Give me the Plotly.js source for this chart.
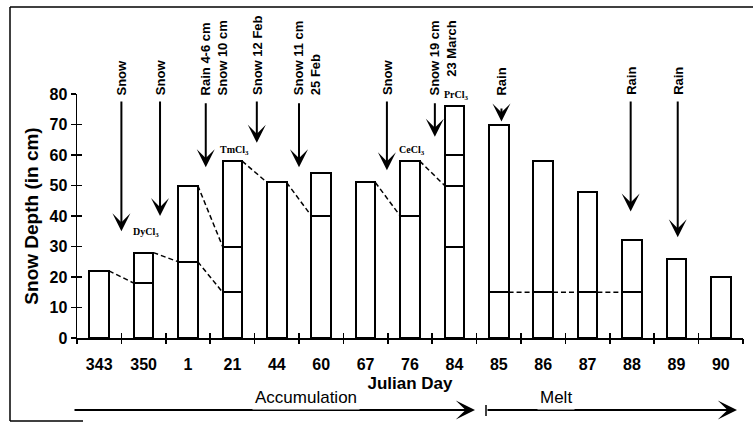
<!DOCTYPE html>
<html>
<head>
<meta charset="utf-8">
<script src="https://cdn.plot.ly/plotly-3.0.1.min.js"></script>
<style>html,body{margin:0;padding:0;background:#fff;}#chart{width:753px;height:423px;}</style>
</head>
<body>
<div id="chart"></div>
<script>
// ---- DATA ----
const categories = ['343','350','1','21','44','60','67','76','84','85','86','87','88','89','90'];
const depth      = [22, 28, 50, 58, 51, 54, 51, 58, 76, 70, 58, 48, 32, 26, 20];
// interior layer boundaries inside each bar (cm)
const layerLines = [[], [18], [25], [15,30], [], [40], [], [40], [30,50,60], [15], [15], [15], [15], [], []];

// dashed connections: from category -> next category, start depth, end depth
const linkFrom  = ['343','350','1','1','21','44','67','76','85','86','87'];
const linkStart = [22, 28, 50, 25, 58, 51, 51, 58, 15, 15, 15];
const linkEnd   = [18, 25, 30, 15, 51, 40, 40, 50, 15, 15, 15];

// events (arrows): position along category axis, arrow tip depth, label
const eventPos  = [0.5, 1.37, 2.4, 3.55, 4.5, 6.48, 7.56, 9.06, 11.97, 13.03];
const eventTip  = [35, 40, 56, 64, 56, 55, 66, 71, 41.5, 33];
const eventTail = [78, 78, 77.5, 78, 77.5, 78, 77.5, 75.7, 78, 78];
const eventText = ['Snow', 'Snow', 'Rain 4-6 cm<br>Snow 10 cm', 'Snow 12 Feb', 'Snow 11 cm<br>25 Feb',
                   'Snow', 'Snow 19 cm<br>23 March', 'Rain', 'Rain', 'Rain'];
const eventAlign = ['left','left','left','left','left','left','right','left','left','left'];

// tracer labels
const chemCat  = ['350', '21', '76', '84'];
const chemName = ['DyCl', 'TmCl', 'CeCl', 'PrCl'];

// ---- BUILD ----
const FONT = 'Liberation Sans, Arial, Helvetica, sans-serif';
const halfW = 0.22;
const idx = c => categories.indexOf(c);
const xs = categories.map((c, i) => i);

const traces = [];
const nSeg = Math.max(...layerLines.map(l => l.length + 1));
for (let k = 0; k < nSeg; k++) {
  const y = categories.map((c, i) => {
    const b = [0, ...layerLines[i], depth[i]];
    return (k + 1 < b.length) ? b[k + 1] - b[k] : null;
  });
  traces.push({
    type: 'bar', x: xs, y: y, width: 0.44,
    marker: {color: '#ffffff', line: {color: '#000', width: 2}},
    hoverinfo: 'skip', showlegend: false
  });
}

const lx = [], ly = [];
linkFrom.forEach((c, j) => {
  const i = idx(c);
  lx.push(i + halfW, i + 1 - halfW, null);
  ly.push(linkStart[j], linkEnd[j], null);
});
traces.push({
  type: 'scatter', mode: 'lines', x: lx, y: ly,
  line: {color: '#000', width: 1.5, dash: '5px,3px'},
  hoverinfo: 'skip', showlegend: false, connectgaps: false
});

// px helpers for decorations outside plot
const L = 77, R = 743, T = 94, B = 338;
const px2px = p => (p - L) / (R - L);
const py2py = p => (B - p) / (B - T);

const annotations = [];
// event arrows
eventPos.forEach((p, i) => {
  annotations.push({
    x: p, y: eventTip[i], ax: p, ay: eventTail[i], axref: 'x', ayref: 'y',
    xref: 'x', yref: 'y', text: '', showarrow: true,
    arrowhead: 3, arrowsize: 1.5, arrowwidth: 2, arrowcolor: '#000', standoff: 0
  });
});
// event labels
eventPos.forEach((p, i) => {
  const nLines = eventText[i].split('<br>').length;
  annotations.push({
    x: p, y: 79.3, xref: 'x', yref: 'y', text: eventText[i], showarrow: false,
    textangle: -90, xanchor: 'center', yanchor: 'bottom', align: eventAlign[i],
    xshift: (nLines - 1) * 8, borderpad: 0,
    font: {family: FONT, size: 13, color: '#000', weight: 'bold'}
  });
});
// chemical labels
const chemShift = [13, 3, 3, 3];
chemCat.forEach((c, j) => {
  const i = idx(c);
  annotations.push({
    x: i, y: depth[i], xref: 'x', yref: 'y', text: chemName[j] + '<sub>3</sub>',
    showarrow: false, yanchor: 'bottom', yshift: chemShift[j], xshift: 2, borderpad: 0,
    font: {family: 'Liberation Serif, Times New Roman, serif', size: 10, color: '#000', weight: 'bold'}
  });
});
// Accumulation / Melt arrows
const yPhase = py2py(410);
annotations.push({
  xref: 'paper', yref: 'paper', x: px2px(475), y: yPhase, ax: -(475 - 73), ay: 0,
  text: '', showarrow: true, arrowhead: 3, arrowsize: 1.6, arrowwidth: 2, arrowcolor: '#000', standoff: 0
});
annotations.push({
  xref: 'paper', yref: 'paper', x: px2px(737), y: yPhase, ax: -(737 - 486), ay: 0,
  text: '', showarrow: true, arrowhead: 3, arrowsize: 1.6, arrowwidth: 2, arrowcolor: '#000', standoff: 0
});
annotations.push({
  xref: 'paper', yref: 'paper', x: px2px(306), y: yPhase, text: 'Accumulation', showarrow: false,
  bgcolor: '#fff', borderpad: 2, font: {family: FONT, size: 17, color: '#000'}
});
annotations.push({
  xref: 'paper', yref: 'paper', x: px2px(575), y: yPhase, text: 'Melt', showarrow: false,
  bgcolor: '#fff', borderpad: 2, font: {family: FONT, size: 17, color: '#000'}
});

const shapes = [
  // melt start bar
  {type: 'line', xref: 'paper', yref: 'paper', x0: px2px(486), x1: px2px(486), y0: py2py(405), y1: py2py(416),
   line: {color: '#000', width: 1.5}},
  // frame
  {type: 'line', xref: 'paper', yref: 'paper', x0: px2px(10), x1: px2px(10), y0: py2py(7), y1: py2py(421),
   line: {color: '#000', width: 1.5}},
  {type: 'line', xref: 'paper', yref: 'paper', x0: px2px(10), x1: px2px(760), y0: py2py(7), y1: py2py(7),
   line: {color: '#000', width: 1.5}},
  {type: 'line', xref: 'paper', yref: 'paper', x0: px2px(10), x1: px2px(83), y0: py2py(421), y1: py2py(421),
   line: {color: '#000', width: 1.5}}
];

const boundaries = categories.map((c, i) => i - 0.5).concat([categories.length - 0.5]);
const tickFont = {family: FONT, size: 16, color: '#000', weight: 'bold'};

const layout = {
  width: 753, height: 423,
  margin: {l: L, r: 753 - R, t: T, b: 423 - B, pad: 0},
  paper_bgcolor: '#fff', plot_bgcolor: '#fff',
  barmode: 'stack', bargap: 0,
  showlegend: false,
  xaxis: {
    range: [-0.5, categories.length - 0.5], tickmode: 'array', tickvals: xs, ticktext: categories,
    ticks: '', showgrid: false, zeroline: false, showline: true, linecolor: '#000', linewidth: 1.5,
    tickfont: tickFont, ticklabelstandoff: 11,
    title: {text: 'Julian Day', font: {family: FONT, size: 17, color: '#000', weight: 'bold'}, standoff: 5}
  },
  xaxis2: {
    overlaying: 'x', anchor: 'y', side: 'bottom', range: [-0.5, categories.length - 0.5],
    tickmode: 'array', tickvals: boundaries, ticks: 'outside', ticklen: 5, tickwidth: 1.5, tickcolor: '#000',
    showticklabels: false, showgrid: false, zeroline: false, showline: false
  },
  xaxis3: {
    overlaying: 'x', anchor: 'y', side: 'bottom', range: [-0.5, categories.length - 0.5],
    tickmode: 'array', tickvals: boundaries, ticks: 'inside', ticklen: 5, tickwidth: 1.5, tickcolor: '#000',
    showticklabels: false, showgrid: false, zeroline: false, showline: false
  },
  yaxis: {
    range: [0, 80], tickmode: 'linear', tick0: 0, dtick: 10,
    ticks: 'outside', ticklen: 5, tickwidth: 1.5, tickcolor: '#000',
    showgrid: false, zeroline: false, showline: true, linecolor: '#000', linewidth: 1.5,
    tickfont: tickFont,
    title: {text: 'Snow Depth (in cm)', font: {family: FONT, size: 19, color: '#000', weight: 'bold'}, standoff: 6}
  },
  yaxis2: {
    overlaying: 'y', anchor: 'x', side: 'left', range: [0, 80], tickmode: 'linear', tick0: 0, dtick: 10,
    ticks: 'inside', ticklen: 5, tickwidth: 1.5, tickcolor: '#000',
    showticklabels: false, showgrid: false, zeroline: false, showline: false
  },
  annotations: annotations,
  shapes: shapes
};

// invisible traces to bind overlay axes
traces.push({type: 'scatter', x: [null], y: [null], xaxis: 'x2', yaxis: 'y2', hoverinfo: 'skip', showlegend: false});
traces.push({type: 'scatter', x: [null], y: [null], xaxis: 'x3', yaxis: 'y', hoverinfo: 'skip', showlegend: false});

Plotly.newPlot('chart', traces, layout, {displayModeBar: false, staticPlot: true});
</script>
</body>
</html>
